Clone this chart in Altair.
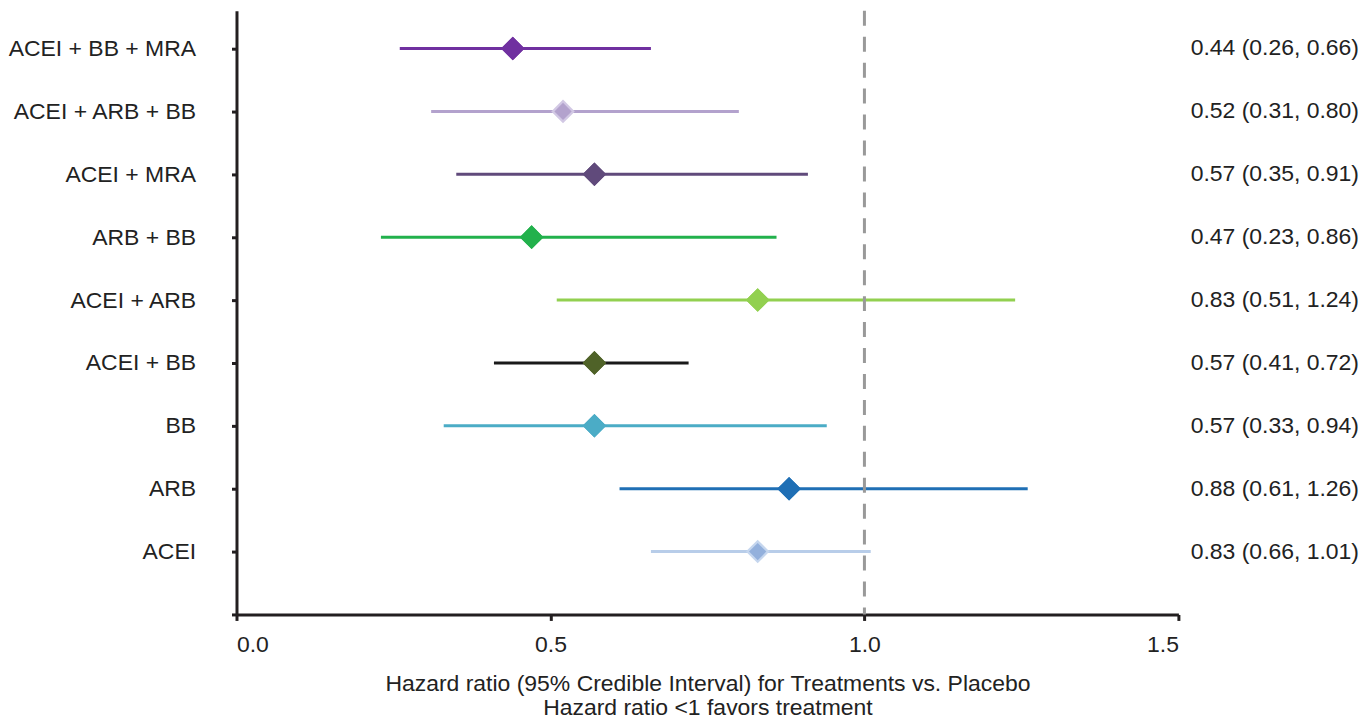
import altair as alt
import pandas as pd

# Rows listed top to bottom
treatments = ["ACEI + BB + MRA", "ACEI + ARB + BB", "ACEI + MRA", "ARB + BB",
              "ACEI + ARB", "ACEI + BB", "BB", "ARB", "ACEI"]
hr = [0.44, 0.52, 0.57, 0.47, 0.83, 0.57, 0.57, 0.88, 0.83]
lower = [0.26, 0.31, 0.35, 0.23, 0.51, 0.41, 0.33, 0.61, 0.66]
upper = [0.66, 0.80, 0.91, 0.86, 1.24, 0.72, 0.94, 1.26, 1.01]
line_colors = ["#7030a0", "#b3a2cd", "#604a7b", "#22b14c", "#92d050",
               "#1a1a1a", "#4bacc6", "#1f6fb5", "#b8cde9"]
marker_colors = ["#7030a0", "#b3a2cd", "#604a7b", "#22b14c", "#92d050",
                 "#4f6228", "#4bacc6", "#1f6fb5", "#93b0dc"]
halo_colors = ["#7030a0", "#d2c8e4", "#604a7b", "#22b14c", "#92d050",
               "#4f6228", "#4bacc6", "#1f6fb5", "#c5d6ee"]

n = len(treatments)
rows = list(range(n, 0, -1))
df = pd.DataFrame({
    "treatment": treatments, "row": rows, "hr": hr, "lo": lower, "hi": upper,
    "lc": line_colors, "mc": marker_colors, "hc": halo_colors,
    "label": [f"{h:.2f} ({l:.2f}, {u:.2f})" for h, l, u in zip(hr, lower, upper)],
})

axis_labels = [""] + treatments[::-1]
label_expr = "[" + ",".join("'" + s + "'" for s in axis_labels) + "][datum.value]"

FONT = "Liberation Sans"
AX = "#231f20"
FS = 23

x_scale = alt.Scale(domain=[0, 1.5], nice=False, zero=False)
y_scale = alt.Scale(domain=[0, 9.6], nice=False, zero=False)

x_enc = alt.X("lo:Q", scale=x_scale, axis=alt.Axis(
    values=[0, 0.5, 1.0, 1.5], format=".1f", grid=False,
    domainColor=AX, domainWidth=3, tickColor=AX, tickWidth=3, tickSize=6,
    labelFont=FONT, labelFontSize=FS, labelColor="#222", labelPadding=13,
    title=["Hazard ratio (95% Credible Interval) for Treatments vs. Placebo",
           "Hazard ratio <1 favors treatment"],
    titleFont=FONT, titleFontSize=FS, titleFontWeight="normal", titleColor="#222",
    titleLineHeight=24, titlePadding=16))
y_enc = alt.Y("row:Q", scale=y_scale, axis=alt.Axis(
    values=list(range(0, n + 1)), labelExpr=label_expr, grid=False,
    domainColor=AX, domainWidth=3, tickColor=AX, tickWidth=3, tickSize=5,
    labelFont=FONT, labelFontSize=FS, labelColor="#222", labelPadding=36,
    labelLimit=400, title=None))

base = alt.Chart(df)

ref = alt.Chart(pd.DataFrame({"x": [1.0]})).mark_rule(
    color="#999999", strokeWidth=3, strokeDash=[15, 11]).encode(
    x=alt.X("x:Q", scale=x_scale), y=alt.value(0), y2=alt.value(605))

ci = base.mark_rule(strokeWidth=3).encode(
    x=x_enc, x2="hi:Q", y=y_enc, color=alt.Color("lc:N", scale=None))

halo = base.mark_point(shape="diamond", filled=True, size=560, opacity=1).encode(
    x=alt.X("hr:Q", scale=x_scale), y=alt.Y("row:Q", scale=y_scale),
    color=alt.Color("hc:N", scale=None))

dots = base.mark_point(shape="diamond", filled=True, size=300, opacity=1).encode(
    x=alt.X("hr:Q", scale=x_scale), y=alt.Y("row:Q", scale=y_scale),
    color=alt.Color("mc:N", scale=None))

dots_full = base.transform_filter("datum.mc == datum.hc").mark_point(
    shape="diamond", filled=True, size=560, opacity=1).encode(
    x=alt.X("hr:Q", scale=x_scale), y=alt.Y("row:Q", scale=y_scale),
    color=alt.Color("mc:N", scale=None))

txt = base.mark_text(align="right", baseline="middle", font=FONT, fontSize=FS,
                     color="#222").encode(
    x=alt.value(1125), y=alt.Y("row:Q", scale=y_scale), text="label:N")

chart = alt.layer(ci, ref, halo, dots, dots_full, txt).properties(
    width=944, height=605, background="white",
    padding={"left": 0, "top": 0, "right": 0, "bottom": 0}
).configure_view(strokeWidth=0, stroke="transparent")

chart.save("out.html", embed_options={"renderer": "svg", "actions": False})
